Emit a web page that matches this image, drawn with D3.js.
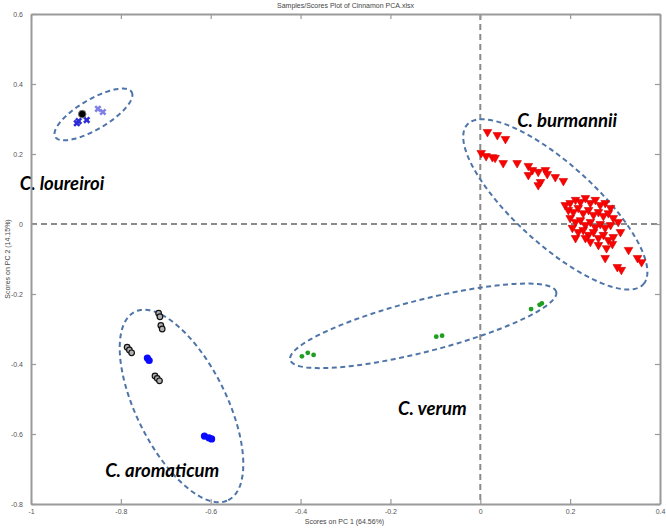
<!DOCTYPE html>
<head>
    <meta charset="utf-8">
    <title>Samples/Scores Plot of Cinnamon PCA</title>
    <script src="https://d3js.org/d3.v7.min.js"></script>
    <style>
        body { margin: 0; background: #fff; }
        .tick text { font-family: "Liberation Sans", Arial, sans-serif; font-size: 7px; fill: #555; }
        .lbl { font-family: "Liberation Sans", Arial, sans-serif; font-size: 7px; fill: #444; }
        .species { font-family: Lato, "Open Sans", sans-serif; font-weight: bold; font-style: italic; font-size: 18.5px; fill: #000; }
    </style>
</head>
<body>
<svg width="666" height="529"></svg>
<script>
// scores (PC1, PC2) per group
var burmannii = [
    [0.016,0.263],[0.038,0.254],[0.056,0.243],[0.002,0.203],[0.013,0.194],[0.027,0.191],[0.033,0.189],
    [0.051,0.174],[0.082,0.174],[0.107,0.166],[0.116,0.154],[0.129,0.149],[0.145,0.154],[0.149,0.143],
    [0.107,0.140],[0.167,0.134],[0.185,0.123],[0.134,0.120],[0.129,0.111],
    [0.189,0.054],[0.200,0.060],[0.212,0.069],[0.223,0.063],[0.234,0.074],[0.245,0.060],[0.256,0.069],
    [0.267,0.054],[0.278,0.060],[0.290,0.046],
    [0.196,0.040],[0.207,0.034],[0.218,0.046],[0.229,0.031],[0.241,0.040],[0.252,0.026],[0.263,0.034],
    [0.274,0.023],[0.285,0.031],[0.296,0.017],
    [0.200,0.017],[0.212,0.006],[0.223,0.011],[0.234,-0.003],[0.245,0.006],[0.256,-0.009],[0.267,0.000],
    [0.278,-0.011],[0.290,-0.003],[0.307,0.006],
    [0.205,-0.011],[0.218,-0.023],[0.229,-0.017],[0.241,-0.031],[0.252,-0.023],[0.263,-0.040],[0.274,-0.031],
    [0.285,-0.046],[0.296,-0.037],[0.312,-0.023],
    [0.245,-0.051],[0.263,-0.060],[0.281,-0.069],[0.294,-0.057],[0.234,-0.040],[0.212,-0.040],
    [0.278,-0.097],[0.305,-0.123],[0.314,-0.131],[0.350,-0.097],[0.359,-0.109],[0.330,-0.074]
];
var verum = [
    [-0.397,-0.378],[-0.384,-0.368],[-0.371,-0.374],
    [-0.098,-0.322],[-0.085,-0.319],
    [0.113,-0.243],[0.132,-0.231],[0.137,-0.227]
];
var aromaticumBlue = [
    [-0.741,-0.383],[-0.737,-0.390],[-0.614,-0.606],[-0.604,-0.611],[-0.598,-0.614]
];
var aromaticumBlack = [
    [-0.716,-0.255],[-0.713,-0.265],[-0.711,-0.290],[-0.708,-0.300],
    [-0.786,-0.352],[-0.781,-0.360],[-0.776,-0.368],
    [-0.724,-0.434],[-0.719,-0.441],[-0.714,-0.448]
];
var loureiroiBlack = [[-0.886,0.314]];
var loureiroiBlue = [[-0.898,0.288],[-0.894,0.294],[-0.876,0.297]];
var loureiroiLight = [[-0.851,0.329],[-0.840,0.320]];

// confidence ellipses: centre, end of semi-major axis, end of semi-minor axis
var ellipseNames = ["C. loureiroi", "C. aromaticum", "C. verum", "C. burmannii"];
var ellipseCentre = [[-0.861,0.313],[-0.665,-0.520],[-0.127,-0.291],[0.167,0.056]];
var ellipseMajor  = [[-0.776,0.377],[-0.561,-0.789],[0.169,-0.194],[0.363,-0.172]];
var ellipseMinor  = [[-0.844,0.276],[-0.575,-0.463],[-0.113,-0.363],[0.227,0.141]];
var labelAt = [[-1.025,0.097],[-0.835,-0.723],[-0.183,-0.546],[0.082,0.277]];

var xTicks = [-1,-0.8,-0.6,-0.4,-0.2,0,0.2,0.4];
var yTicks = [-0.8,-0.6,-0.4,-0.2,0,0.2,0.4,0.6];

var svg = d3.select("svg");
var mLeft = 31, mRight = 660, mTop = 14, mBottom = 504;

var x = d3.scaleLinear().domain([-1,0.4]).range([mLeft,mRight]);
var y = d3.scaleLinear().domain([-0.8,0.6]).range([mBottom,mTop]);

// zero lines
svg.append("line").attr("x1",x(0)).attr("x2",x(0)).attr("y1",y(0.6)).attr("y2",y(-0.8))
    .attr("stroke","#8a8a8a").attr("stroke-width",2).attr("stroke-dasharray","6,4");
svg.append("line").attr("x1",x(-1)).attr("x2",x(0.4)).attr("y1",y(0)).attr("y2",y(0))
    .attr("stroke","#8a8a8a").attr("stroke-width",2).attr("stroke-dasharray","6,4");

// ellipses
var ellipsePath = function(i){
    var c = ellipseCentre[i], M = ellipseMajor[i], m = ellipseMinor[i];
    var pts = d3.range(0, 2*Math.PI + 0.01, Math.PI/90).map(function(t){
        var px = c[0] + (M[0]-c[0])*Math.cos(t) + (m[0]-c[0])*Math.sin(t);
        var py = c[1] + (M[1]-c[1])*Math.cos(t) + (m[1]-c[1])*Math.sin(t);
        return [x(px), y(py)];
    });
    return d3.line()(pts) + "Z";
};
svg.append("g").selectAll("path").data(ellipseNames).enter().append("path")
    .attr("d", function(d,i){ return ellipsePath(i); })
    .attr("fill","none").attr("stroke","#4f75a8").attr("stroke-width",2)
    .attr("stroke-dasharray","5,3.5");

// points
var tri = d3.symbol().type(d3.symbolTriangle).size(32);
svg.append("g").selectAll("path").data(burmannii).enter().append("path")
    .attr("d", tri)
    .attr("transform", function(d){ return "translate("+x(d[0])+","+y(d[1])+") rotate(180)"; })
    .attr("fill","#ff0000").attr("stroke","#d00000").attr("stroke-width",0.6);

svg.append("g").selectAll("circle").data(verum).enter().append("circle")
    .attr("cx", function(d){ return x(d[0]); }).attr("cy", function(d){ return y(d[1]); })
    .attr("r", 2.4).attr("fill","#1f9e1f");

svg.append("g").selectAll("circle").data(aromaticumBlack).enter().append("circle")
    .attr("cx", function(d){ return x(d[0]); }).attr("cy", function(d){ return y(d[1]); })
    .attr("r", 2.8).attr("fill","#b0b0b0").attr("stroke","#111").attr("stroke-width",1.2);

svg.append("g").selectAll("circle").data(aromaticumBlue).enter().append("circle")
    .attr("cx", function(d){ return x(d[0]); }).attr("cy", function(d){ return y(d[1]); })
    .attr("r", 3.6).attr("fill","#0a0aff");

var cross = d3.symbol().type(d3.symbolCross).size(32);
svg.append("g").selectAll("path").data(loureiroiBlue).enter().append("path")
    .attr("d", cross)
    .attr("transform", function(d){ return "translate("+x(d[0])+","+y(d[1])+") rotate(45)"; })
    .attr("fill","#2b2bd8");
svg.append("g").selectAll("path").data(loureiroiLight).enter().append("path")
    .attr("d", cross)
    .attr("transform", function(d){ return "translate("+x(d[0])+","+y(d[1])+") rotate(45)"; })
    .attr("fill","#8080e6");
svg.append("g").selectAll("circle").data(loureiroiBlack).enter().append("circle")
    .attr("cx", function(d){ return x(d[0]); }).attr("cy", function(d){ return y(d[1]); })
    .attr("r", 3.8).attr("fill","#000").attr("stroke","#777").attr("stroke-width",1);

// species labels
svg.append("g").selectAll("text").data(ellipseNames).enter().append("text")
    .attr("class","species")
    .attr("x", function(d,i){ return x(labelAt[i][0]); })
    .attr("y", function(d,i){ return y(labelAt[i][1]); })
    .text(function(d){ return d; });

// axes box with inward ticks
var fmt = function(d){ return String(d); };
var ax = function(g){
    g.select(".domain").attr("stroke","#9a9a9a").attr("stroke-width",2);
    g.selectAll(".tick line").attr("stroke","#9a9a9a").attr("stroke-width",1.2);
};
svg.append("g").attr("transform","translate(0,"+mBottom+")")
    .call(d3.axisBottom(x).tickValues(xTicks).tickSize(-5).tickSizeOuter(0).tickPadding(5).tickFormat(fmt)).call(ax);
svg.append("g").attr("transform","translate(0,"+mTop+")")
    .call(d3.axisTop(x).tickValues(xTicks).tickSize(-5).tickSizeOuter(0).tickFormat("")).call(ax);
svg.append("g").attr("transform","translate("+mLeft+",0)")
    .call(d3.axisLeft(y).tickValues(yTicks).tickSize(-5).tickSizeOuter(0).tickPadding(8).tickFormat(fmt)).call(ax);
svg.append("g").attr("transform","translate("+mRight+",0)")
    .call(d3.axisRight(y).tickValues(yTicks).tickSize(-5).tickSizeOuter(0).tickFormat("")).call(ax);

// titles
svg.append("text").attr("class","lbl").attr("x",(mLeft+mRight)/2).attr("y",8)
    .attr("text-anchor","middle").text("Samples/Scores Plot of Cinnamon PCA.xlsx");
svg.append("text").attr("class","lbl").attr("x",(mLeft+mRight)/2 - 1).attr("y",524)
    .attr("text-anchor","middle").text("Scores on PC 1 (64.56%)");
svg.append("text").attr("class","lbl")
    .attr("transform","translate(10,"+((mTop+mBottom)/2)+") rotate(-90)")
    .attr("text-anchor","middle").text("Scores on PC 2 (14.15%)");
</script>
</body>
